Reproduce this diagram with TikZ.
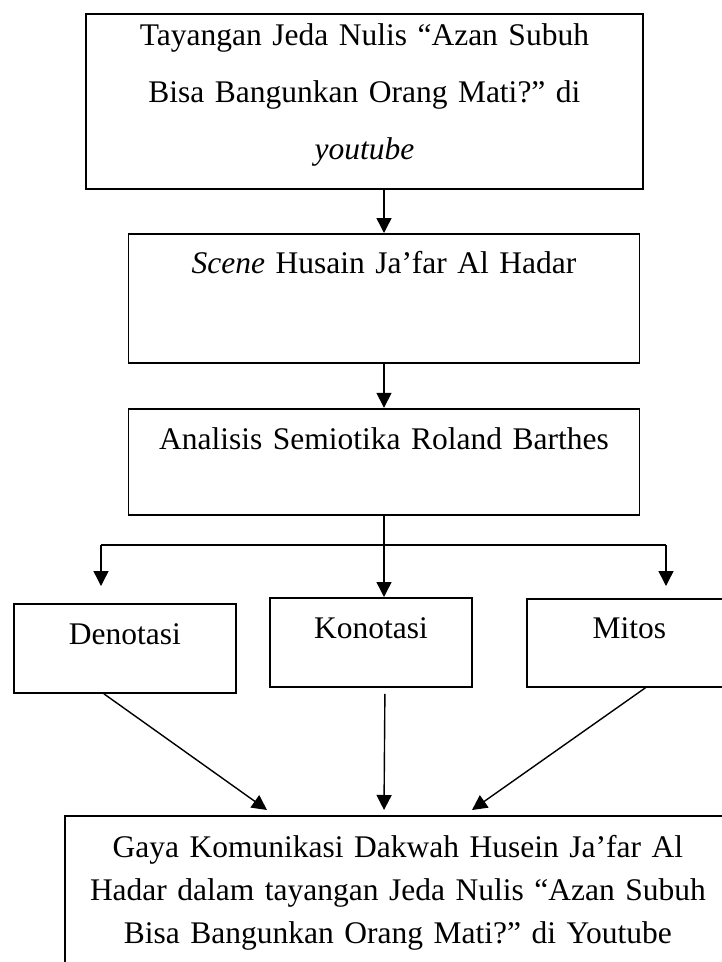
\documentclass[tikz,border=0pt]{standalone}
\usepackage{fontspec}
\setmainfont{Liberation Serif}
\usepackage{tikz}
\usetikzlibrary{arrows.meta}
\usetikzlibrary{calc}
\usetikzlibrary{positioning}
\frenchspacing

\begin{document}
\begin{tikzpicture}[x=1pt,y=-1pt,>={Triangle[length=15pt,width=15pt]},line width=1.4pt,font=\fontsize{31.5}{43}\selectfont]
 				 \tikzstyle{kotak}=[draw=black, line width=1.8pt, inner sep=0pt, align=center, text=black]
 				 \clip (0,0) rectangle (722,962);
 					 \node[kotak, anchor=north west, text width=557pt, text height=32pt, text depth=143pt, font=\fontsize{31.5}{57}\selectfont] (tayang) at (85,13) {Tayangan Jeda Nulis “Azan Subuh\\Bisa Bangunkan Orang Mati?” di\\\textit{youtube}};
 					 \node[kotak, anchor=north, text width=511pt, text height=40pt, text depth=89pt] (scene) at (384,233) {\textit{Scene} Husain Ja’far Al Hadar};
 					 \node[kotak, text width=511pt, text height=41pt, text depth=65pt] (analisis) [below=44pt of scene] {Analisis Semiotika Roland Barthes};
 					 \node[kotak, anchor=north west, text width=222pt, text height=41pt, text depth=48pt] (deno) at (13,603) {Denotasi};
 					 \node[kotak, anchor=north west, text width=202pt, text height=41pt, text depth=48pt] (kono) at (269,597) {Konotasi};
 					 \node[kotak, anchor=north west, text width=205pt, text height=40pt, text depth=48pt] (mitos) at (526,598) {Mitos};
 					 \node[kotak, anchor=north west, text width=666pt, text height=42pt, text depth=170pt] (gaya) at (64,815) {Gaya Komunikasi Dakwah Husein Ja’far Al\\Hadar dalam tayangan Jeda Nulis “Azan Subuh\\Bisa Bangunkan Orang Mati?” di Youtube};

 					 \coordinate (pisah) at (384,545);
 					 \coordinate (kiri) at (101,545);
 					 \coordinate (kanan) at (666,545);
 					 \coordinate (ujungkiri) at (101,586);
 					 \coordinate (ujungkanan) at (666,586);
 					 \coordinate (g1) at (267,810);
 					 \coordinate (g2) at (384,810);
 					 \coordinate (g3) at (472,810);

 					  \path
 					  			(tayang.south -| scene.north) edge [->] (scene.north)
 					 			(scene) edge [->] (analisis)
 					 			(analisis) edge (pisah)
 					 			(kiri) edge (kanan)
 					 			(kiri) edge [->] (ujungkiri)
 					 			(kanan) edge [->] (ujungkanan)
 					 			(pisah) edge [->] (pisah |- kono.north)
 					 			([xshift=-21pt]deno.south) edge [->] (g1)
 					 			([xshift=14pt,yshift=-6pt]kono.south) edge [->] (g2)
 					 			([xshift=16pt]mitos.south) edge [->] (g3);
\end{tikzpicture}
\end{document}
